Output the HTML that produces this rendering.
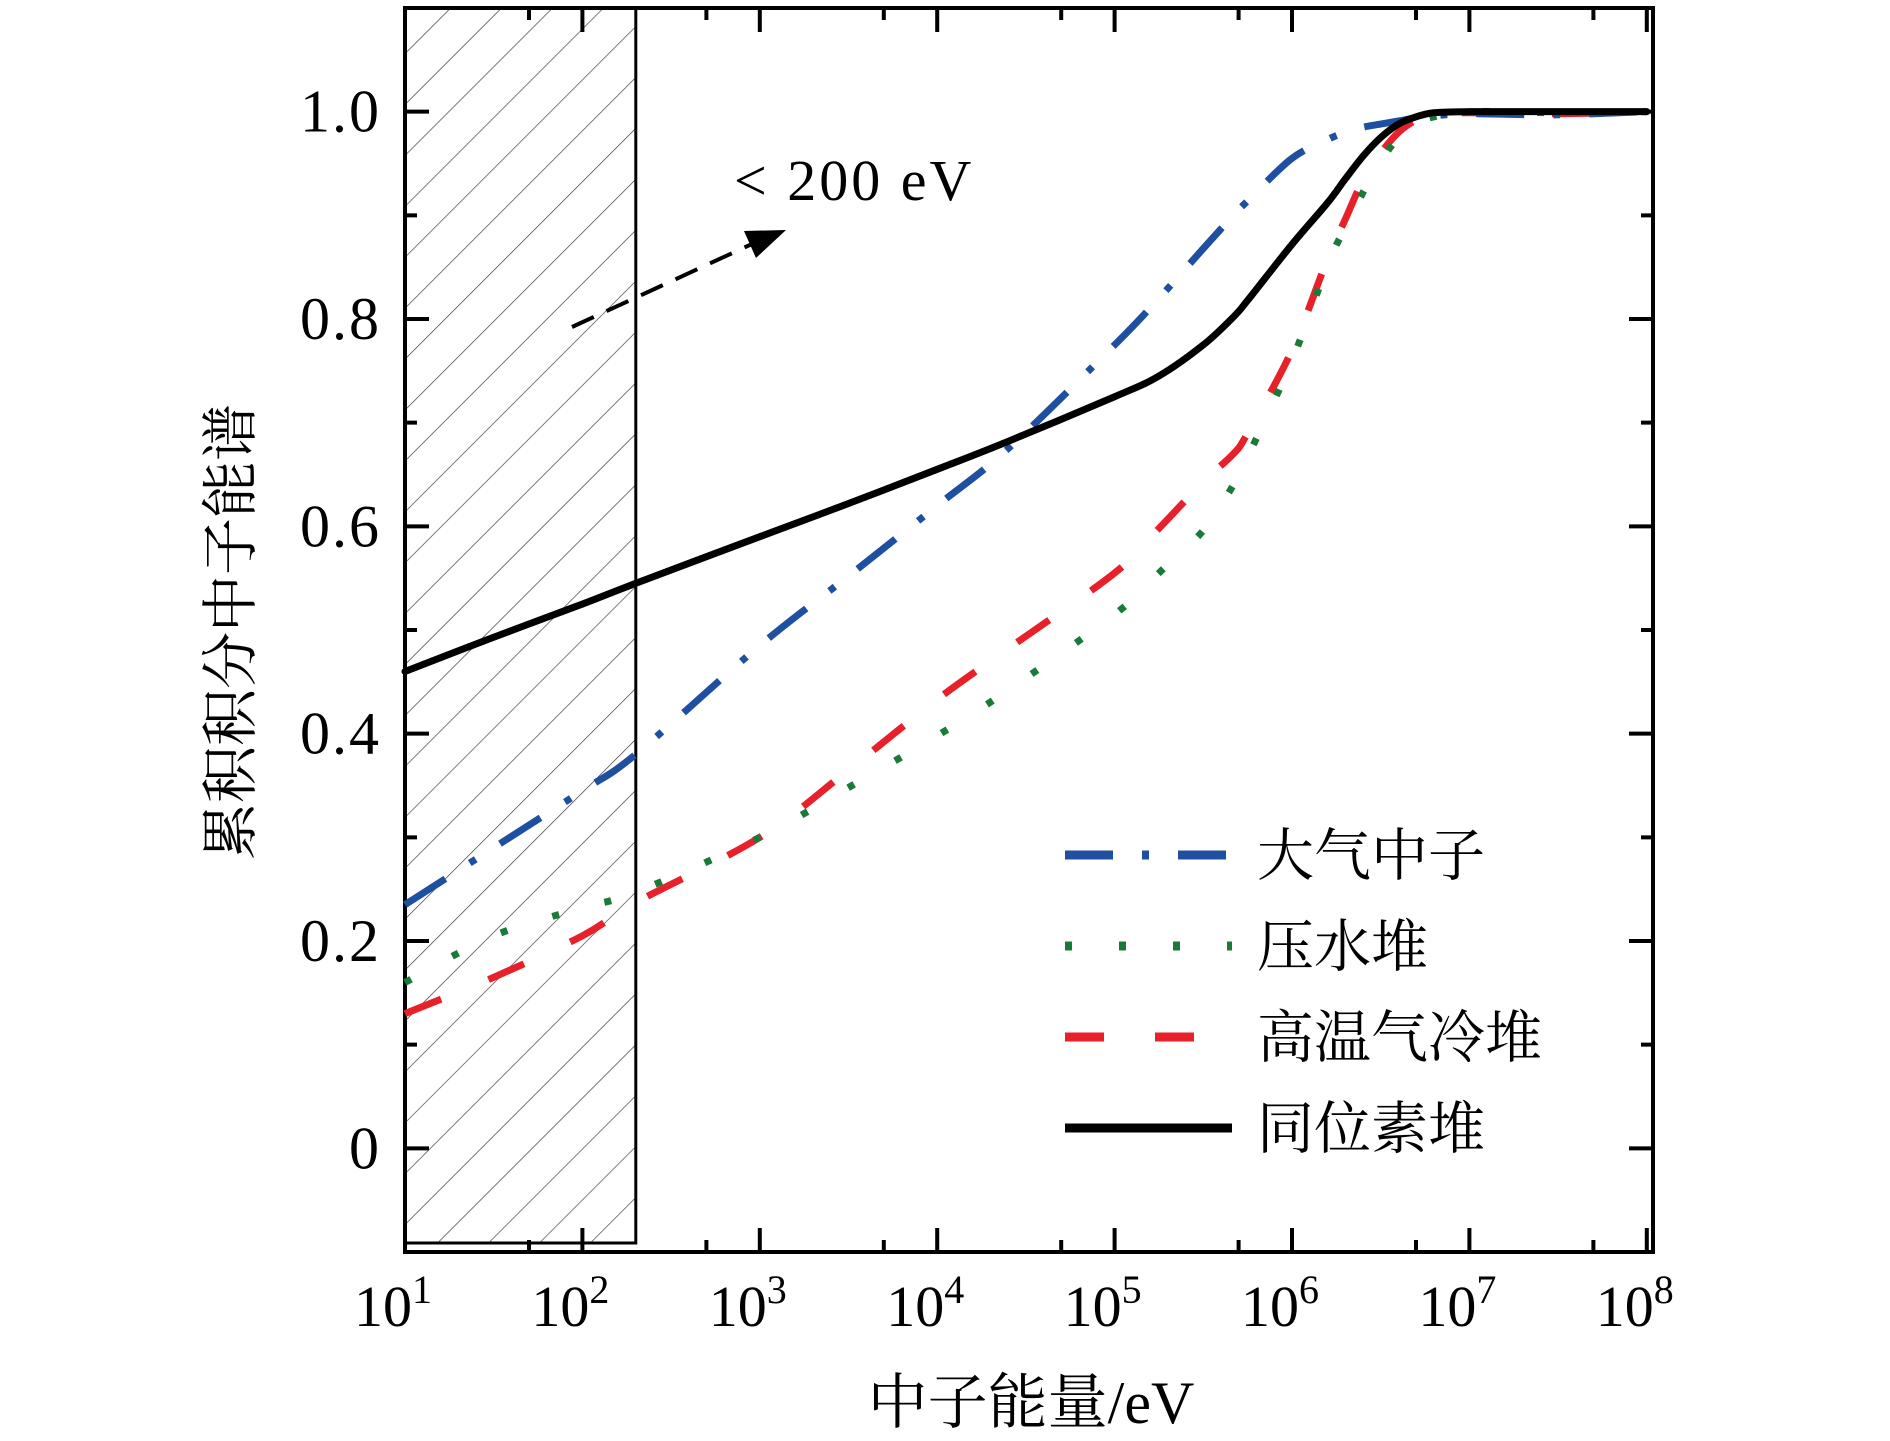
<!DOCTYPE html>
<html><head><meta charset="utf-8">
<style>
html,body{margin:0;padding:0;background:#fff;}
svg{display:block;}
.tick{font-family:"Liberation Serif","Noto Serif CJK SC",serif;fill:#000;}
.cn{font-family:"Liberation Serif","Noto Serif CJK SC",serif;fill:#000;}
</style></head>
<body>
<svg id="chart" width="1890" height="1441" viewBox="0 0 1890 1441" xmlns="http://www.w3.org/2000/svg">
<defs>
<pattern id="hatch" patternUnits="userSpaceOnUse" width="36" height="36" patternTransform="rotate(45)">
<line x1="0" y1="0" x2="0" y2="36" stroke="#333" stroke-width="1.3"/>
</pattern>
</defs>
<g id="plot"></g>
</svg>
<script>
const categoriesLogE = [1, 1.5, 2, 2.3, 3, 3.5, 4, 4.4, 5, 5.25, 5.5, 5.67, 5.75, 6, 6.2, 6.3, 6.4, 6.5, 6.6, 6.7, 6.8, 7, 7.5, 8];
const seriesAtmos = [0.235, 0.29, 0.345, 0.38, 0.485, 0.552, 0.62, 0.675, 0.775, 0.82, 0.868, 0.9, 0.914, 0.955, 0.973, 0.98, 0.985, 0.988, 0.991, 0.994, 0.996, 0.998, 0.997, 1.0];
const seriesPWR = [0.16, 0.205, 0.232, 0.247, 0.30, 0.348, 0.398, 0.442, 0.515, 0.555, 0.596, 0.64, 0.667, 0.76, 0.852, 0.888, 0.922, 0.952, 0.975, 0.988, 0.995, 1.0, 0.999, 1.0];
const seriesHTGR = [0.13, 0.165, 0.205, 0.237, 0.30, 0.365, 0.433, 0.482, 0.555, 0.598, 0.643, 0.67, 0.69, 0.77, 0.858, 0.896, 0.934, 0.96, 0.98, 0.992, 0.998, 0.999, 0.998, 1.0];
const seriesIsotope = [0.46, 0.493, 0.525, 0.545, 0.59, 0.622, 0.655, 0.682, 0.725, 0.745, 0.775, 0.802, 0.818, 0.872, 0.912, 0.935, 0.957, 0.975, 0.988, 0.995, 0.999, 1.0, 1.0, 1.0];
const xTickExps = [1, 2, 3, 4, 5, 6, 7, 8];
const yTickValues = [0, 0.2, 0.4, 0.6, 0.8, 1.0];
const yTickLabels = ["0", "0.2", "0.4", "0.6", "0.8", "1.0"];
const legendLabels = ["大气中子", "压水堆", "高温气冷堆", "同位素堆"];
const shadeLimitLogE = Math.log10(200);

const L=405, R=1653, T=8, B=1252;
const X0=405, XPD=177.4;
const xs = v => X0 + (v-1)*XPD;
const ys = v => B - (v+0.1)*(B-T)/1.2;
const NS="http://www.w3.org/2000/svg";
const g=document.getElementById('plot');
function mk(tag, attrs, parent){const e=document.createElementNS(NS,tag);for(const k in attrs)e.setAttribute(k,attrs[k]);(parent||g).appendChild(e);return e;}

let hr=mk('rect',{x:L,y:T,width:xs(shadeLimitLogE)-L,height:(B-9)-T,fill:'url(#hatch)',stroke:'#000','stroke-width':3});



for(let e=1;e<=8;e++){
  const x=xs(e);
  let t=mk('path',{d:`M${x},${B}v-24M${x},${T}v24`,stroke:'#000','stroke-width':4});
  
  
  if(e<8){const xm=xs(e+Math.log10(5));
    let m=mk('path',{d:`M${xm},${B}v-12M${xm},${T}v12`,stroke:'#000','stroke-width':4});
    
    }
}
for(let i=-1;i<=11;i++){
  const v=i/10, y=ys(v), len=(i%2===0)?24:12;
  let t=mk('path',{d:`M${L},${y}h${len}M${R},${y}h${-len}`,stroke:'#000','stroke-width':4});
  
  
}
let fr=mk('rect',{x:L,y:T,width:R-L,height:B-T,fill:'none',stroke:'#000','stroke-width':4});



xTickExps.forEach(e=>{
  const t=mk('text',{x:xs(e)-12,y:1326,'text-anchor':'middle','font-size':58,class:'tick'});
  
  
  t.textContent='10';
  const s=mk('tspan',{dy:-23,'font-size':40},t); s.textContent=String(e);
});
yTickValues.forEach((v,i)=>{
  const t=mk('text',{x:381,y:ys(v)+20,'text-anchor':'end','font-size':60,'letter-spacing':2,class:'tick'});
  
  
  t.textContent=yTickLabels[i];
});

function pathFor(vals){
  const p=categoriesLogE.map((e,i)=>[xs(e),ys(vals[i])]);
  let d=`M${p[0][0]},${p[0][1]}`;
  for(let i=0;i<p.length-1;i++){
    const p0=p[Math.max(0,i-1)],p1=p[i],p2=p[i+1],p3=p[Math.min(p.length-1,i+2)];
    const c1=[p1[0]+(p2[0]-p0[0])/6,p1[1]+(p2[1]-p0[1])/6];
    const c2=[p2[0]-(p3[0]-p1[0])/6,p2[1]-(p3[1]-p1[1])/6];
    d+=`C${c1[0]},${c1[1]} ${c2[0]},${c2[1]} ${p2[0]},${p2[1]}`;
  }
  return d;
}
const styles=[
 {vals:seriesHTGR,color:'#e8202a',dash:'39 51',name:'series-htgr-line',cap:'butt'},
 {vals:seriesPWR,color:'#1a7a3a',dash:'7 47',name:'series-pwr-line',cap:'butt'},
 {vals:seriesAtmos,color:'#1f4fa0',dash:'48 29 7 29',name:'series-atmospheric-line',cap:'butt'},
 {vals:seriesIsotope,color:'#000',dash:'none',name:'series-isotope-line',cap:'round'},
];
styles.forEach(s=>{
  const p=mk('path',{d:pathFor(s.vals),fill:'none',stroke:s.color,'stroke-width':7,'stroke-dasharray':s.dash,'stroke-linecap':s.cap});
  
  
});

const legendOrder=[styles[2],styles[1],styles[0],styles[3]];
legendOrder.forEach((s,i)=>{
  const y=855+i*91;
  const l=mk('line',{x1:1065,y1:y,x2:1232,y2:y,stroke:s.color,'stroke-width':9,'stroke-dasharray':s.dash});
  
  
  const t=mk('text',{x:1257,y:y+20,'font-size':57,class:'cn'});
  
  
  t.textContent=legendLabels[i];
});

const ar=mk('path',{d:'M572,327L752,244',stroke:'#000','stroke-width':4,'stroke-dasharray':'24 14',fill:'none'});


const ah=mk('path',{d:'M786,230L744,231L756,258Z',fill:'#000'});


const at=mk('text',{x:734,y:200,'font-size':58,'letter-spacing':3,class:'tick'});


at.textContent='< 200 eV';

const xt=mk('text',{x:1031,y:1423,'text-anchor':'middle','font-size':60,class:'cn'});


xt.textContent='中子能量/eV';
const yt=mk('text',{x:0,y:0,'text-anchor':'middle','font-size':57,class:'cn',transform:'translate(250,632) rotate(-90)'});


yt.textContent='累积积分中子能谱';
</script>
</body></html>
